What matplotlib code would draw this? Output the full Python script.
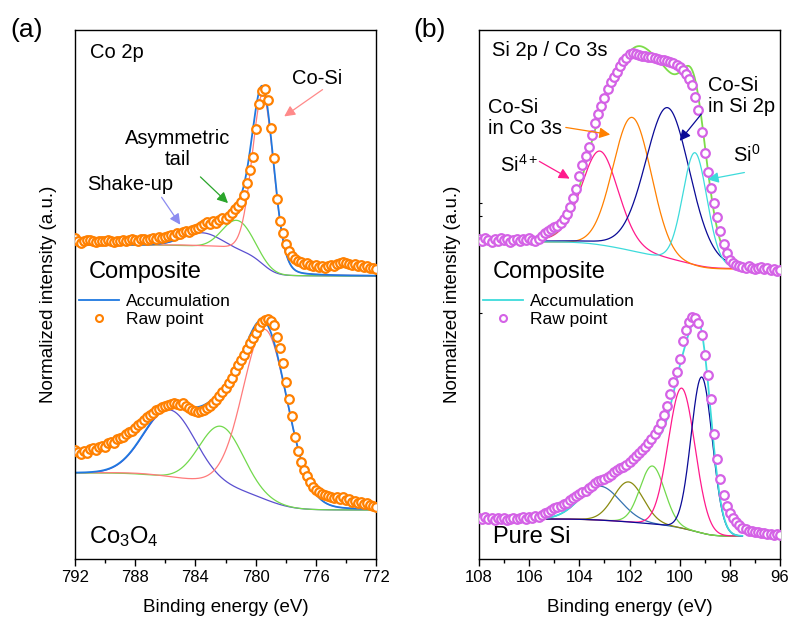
import numpy as np
import matplotlib.pyplot as plt
from matplotlib.lines import Line2D
from matplotlib.ticker import MultipleLocator

plt.rcParams['font.family'] = ['Liberation Sans', 'DejaVu Sans']
plt.rcParams['mathtext.fontset'] = 'custom'
plt.rcParams['mathtext.rm'] = 'Liberation Sans'
plt.rcParams['mathtext.it'] = 'Liberation Sans:italic'

# ---- raw data (normalized intensity, a.u., stacked as plotted) ----
co_energy = np.linspace(792, 772, 101)
co_composite_raw = [321, 318, 316, 318, 319, 319, 318, 317, 318, 318, 318,
                    319, 318, 317, 318, 318, 319, 318, 319, 320, 319,
                    318, 320, 320, 319, 320, 321, 320, 322, 321, 322,
                    323, 324, 323, 326, 325, 327, 328, 327, 329, 330,
                    331, 333, 335, 337, 335, 338, 336, 339, 341, 340,
                    343, 346, 350, 353, 357, 364, 376, 389, 402, 430,
                    455, 468, 470, 459, 431, 401, 360, 338, 326, 315,
                    308, 303, 300, 298, 297, 295, 296, 294, 293, 294,
                    292, 293, 291, 293, 294, 293, 295, 296, 297, 296,
                    295, 294, 295, 293, 294, 292, 293, 291, 291, 290]
co_oxide_raw = [109, 107, 105, 108, 106, 110, 111, 109, 112, 113, 112,
                116, 117, 116, 120, 121, 122, 125, 127, 128, 131,
                134, 136, 139, 142, 144, 146, 149, 150, 152, 153,
                154, 155, 156, 155, 154, 156, 153, 151, 149, 148,
                147, 148, 149, 151, 153, 156, 159, 163, 167, 171,
                176, 181, 188, 194, 199, 204, 210, 216, 221, 226,
                232, 237, 239, 240, 238, 234, 222, 211, 196, 177,
                160, 143, 122, 108, 97, 89, 83, 77, 72, 69,
                67, 65, 64, 63, 62, 61, 62, 60, 62, 59,
                60, 57, 58, 56, 57, 55, 56, 54, 53, 52]

si_energy = np.linspace(108, 96, 97)
si_composite_raw = [320, 318, 321, 319, 317, 320, 318, 321, 319,
                    320, 317, 319, 320, 318, 320, 319, 321,
                    319, 318, 320, 323, 326, 328, 330, 332,
                    333, 336, 340, 345, 352, 361, 370, 383,
                    394, 403, 412, 424, 436, 445, 453, 461,
                    470, 477, 482, 487, 493, 498, 501, 505,
                    506, 505, 504, 503, 503, 502, 502, 501,
                    500, 499, 499, 498, 497, 496, 494, 492,
                    489, 485, 480, 474, 462, 449, 427, 406,
                    387, 371, 356, 342, 328, 315, 306, 299,
                    296, 294, 293, 292, 291, 293, 291, 290,
                    291, 292, 290, 291, 289, 290, 288, 289]
si_pure_raw = [41, 40, 42, 40, 41, 39, 41, 40, 41,
               39, 40, 41, 40, 41, 42, 40, 42,
               41, 43, 42, 44, 46, 47, 49, 51,
               52, 53, 55, 56, 59, 61, 63, 65,
               67, 68, 71, 73, 76, 78, 79, 80,
               82, 84, 87, 89, 91, 92, 94, 97,
               100, 103, 106, 109, 112, 116, 120, 125,
               130, 136, 144, 153, 165, 177, 187, 200,
               218, 229, 237, 242, 241, 236, 224, 204,
               184, 160, 125, 100, 80, 64, 53, 46,
               41, 37, 34, 31, 30, 28, 28, 27,
               27, 26, 26, 25, 25, 24, 25, 24]

# ---- fitted components: centre (eV), height, FWHM (eV), lorentz fraction ----
co_comp_peaks = [(783.5, 14, 3.0, 0.0), (781.2, 31, 2.4, 0.0), (779.5, 170, 1.7, 0.15)]
co_comp_bg = (314, 283)       # Shirley background: high-BE end, low-BE end
co_oxide_peaks = [(785.7, 68, 4.0, 0.0), (782.3, 60, 3.4, 0.0), (779.35, 170, 3.5, 0.1)]
co_oxide_bg = (86, 49)
co_colors = ['#5a4fd0', '#72d94c', '#ff7b7b']

si_comp_peaks = [(103.18, 94, 1.75, 0.2), (101.89, 134, 1.8, 0.0),
                 (100.48, 152, 2.1, 0.15), (99.39, 113, 1.15, 0.1)]
si_comp_bg = (317, 290)
si_comp_colors = ['#ff1a8c', '#ff8000', '#0a0a96', '#3ddbdb']
si_pure_peaks = [(103.18, 34, 1.9, 0.0), (102.04, 40, 1.4, 0.0), (101.09, 58, 1.15, 0.0),
                 (99.92, 140, 1.25, 0.0), (99.12, 156, 1.0, 0.0)]
si_pure_bg = (40, 23)
si_pure_colors = ['#3572b0', '#8a8a10', '#72d94c', '#ff1a8c', '#0a0a96']


def peak(x, c, h, w, eta):
    g = np.exp(-4 * np.log(2) * (x - c) ** 2 / w ** 2)
    lor = 1 / (1 + 4 * (x - c) ** 2 / w ** 2)
    return h * ((1 - eta) * g + eta * lor)


def shirley(x, total, high, low):
    # x runs from high to low binding energy
    xs, ts = x[::-1], total[::-1]
    cum = np.concatenate([[0], np.cumsum(0.5 * (ts[1:] + ts[:-1]) * np.diff(xs))])
    return low + (high - low) * (cum / cum[-1])[::-1]


def draw_fit(ax, hi, lo, peaks, colors, bg, acc_color):
    x = np.linspace(hi, lo, 800)
    comps = [peak(x, *p) for p in peaks]
    total = np.sum(comps, axis=0)
    base = shirley(x, total, *bg)
    for comp, col in zip(comps, colors):
        ax.plot(x, base + comp, color=col, lw=0.9, zorder=2)
    ax.plot(x, base + total, color=acc_color, lw=1.3, zorder=2.5)


def draw_raw(ax, x, y, col):
    ax.plot(x, y, 'o', ms=6.2, mfc='white', mec=col, mew=1.6, zorder=3)


def arrow(ax, tail, head, col):
    ax.annotate('', xy=head, xytext=tail,
                arrowprops=dict(arrowstyle='-|>', color=col, lw=0.9, mutation_scale=16))


fig = plt.figure(figsize=(7.9, 6.17), dpi=100)
ax1 = fig.add_axes([75 / 790, 58 / 617, 301 / 790, 529 / 617])
ax2 = fig.add_axes([479 / 790, 58 / 617, 301 / 790, 529 / 617])

# ---- (a) Co 2p ----
orange = '#ff8000'
draw_fit(ax1, 792, 772, co_comp_peaks, co_colors, co_comp_bg, '#1f78e0')
draw_fit(ax1, 792, 772, co_oxide_peaks, co_colors, co_oxide_bg, '#1f78e0')
draw_raw(ax1, co_energy, co_composite_raw, orange)
draw_raw(ax1, co_energy, co_oxide_raw, orange)

ax1.text(791.0, 506, 'Co 2p', fontsize=14.5, va='center')
ax1.text(777.6, 480, 'Co-Si', fontsize=14.5, va='center')
ax1.text(785.2, 410, 'Asymmetric\ntail', fontsize=14.5, va='center', ha='center',
         multialignment='center', linespacing=1.15)
ax1.text(791.2, 374, 'Shake-up', fontsize=14.5, va='center')
ax1.text(791.1, 287, 'Composite', fontsize=17, va='center')
ax1.text(791.1, 22, 'Co$_3$O$_4$', fontsize=17, va='center')
arrow(ax1, (775.4, 471), (778.25, 441), '#ff8a8a')
arrow(ax1, (783.8, 384), (781.7, 354), '#2aa52a')
arrow(ax1, (786.35, 364), (784.9, 332), '#8c8cf0')

# ---- (b) Si 2p / Co 3s ----
violet = '#d462e6'
draw_fit(ax2, 105.45, 97.7, si_comp_peaks, si_comp_colors, si_comp_bg, '#7ddc4a')
draw_fit(ax2, 105.3, 97.5, si_pure_peaks, si_pure_colors, si_pure_bg, '#3ddbdb')
draw_raw(ax2, si_energy, si_composite_raw, violet)
draw_raw(ax2, si_energy, si_pure_raw, violet)

ax2.text(107.48, 509, 'Si 2p / Co 3s', fontsize=14.5, va='center')
ax2.text(107.64, 441, 'Co-Si\nin Co 3s', fontsize=14.5, va='center', linespacing=1.15)
ax2.text(107.16, 394, 'Si$^{\\mathrm{4+}}$', fontsize=14.5, va='center')
ax2.text(98.87, 463, 'Co-Si\nin Si 2p', fontsize=14.5, va='center', linespacing=1.15)
ax2.text(97.87, 404, 'Si$^{\\mathrm{0}}$', fontsize=14.5, va='center')
ax2.text(107.44, 287, 'Composite', fontsize=17, va='center')
ax2.text(107.44, 22, 'Pure Si', fontsize=17, va='center')
arrow(ax2, (105.69, 399), (104.29, 379), '#ff1a8c')
arrow(ax2, (104.65, 432), (102.66, 424), '#ff8000')
arrow(ax2, (99.07, 447), (100.07, 416), '#0a0a96')
arrow(ax2, (97.31, 387), (98.99, 379), '#3ddbdb')

# ---- axes styling ----
for ax, lim, major, minor, col, acc in [(ax1, (792, 772), 4, 2, orange, '#1f78e0'),
                                        (ax2, (108, 96), 2, 1, violet, '#3ddbdb')]:
    ax.set_xlim(*lim)
    ax.set_ylim(0, 529)
    ax.set_xticks(np.arange(min(lim), max(lim) + 1, major))
    ax.xaxis.set_minor_locator(MultipleLocator(minor))
    ax.tick_params(axis='x', which='major', direction='out', length=5, width=1, labelsize=12, pad=3)
    ax.tick_params(axis='x', which='minor', direction='out', length=3, width=1)
    ax.set_xlabel('Binding energy (eV)', fontsize=13.5, labelpad=10)
    ax.set_ylabel('Normalized intensity (a.u.)', fontsize=13.5, labelpad=13)
    for s in ax.spines.values():
        s.set_linewidth(1.0)
    handles = [Line2D([], [], color=acc, lw=1.3),
               Line2D([], [], ls='none', marker='o', ms=5, mfc='white', mec=col, mew=1.5)]
    ax.legend(handles, ['Accumulation', 'Raw point'], loc='upper left',
              bbox_to_anchor=(0.0, 0.51), frameon=False, fontsize=12.5,
              handlelength=2.3, handletextpad=0.4, labelspacing=0.2,
              borderaxespad=0, borderpad=0.25)

ax1.set_yticks([])
ax2.set_yticks([246, 343, 356])
ax2.tick_params(axis='y', direction='in', length=2, labelleft=False)

fig.text(10 / 790, 1 - 30 / 617, '(a)', fontsize=19, va='center')
fig.text(413 / 790, 1 - 30 / 617, '(b)', fontsize=19, va='center')

fig.savefig('out.png', dpi=100)
